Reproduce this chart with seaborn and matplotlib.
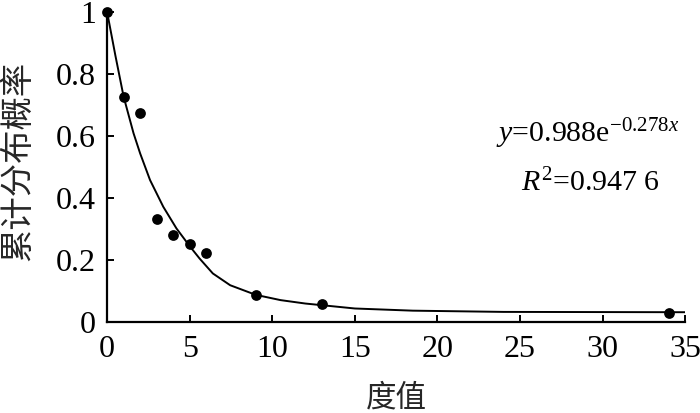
import matplotlib
matplotlib.use("Agg")
import matplotlib.pyplot as plt
import seaborn as sns
import pandas as pd

# observed points
degree = [0, 1, 2, 3, 4, 5, 6, 9, 13, 34]
cum_prob = [1.0, 0.725, 0.673, 0.332, 0.281, 0.252, 0.223, 0.087, 0.058, 0.031]

# fitted curve
fit_x = [0, 0.5, 1, 1.6, 2, 2.6, 3.4, 4.2, 5, 5.6, 6.4, 7.45, 9, 10.5, 12, 15, 18.5, 24, 35]
fit_y = [1.0, 0.86, 0.727, 0.609, 0.544, 0.458, 0.372, 0.302, 0.245, 0.205, 0.157,
         0.119, 0.088, 0.071, 0.060, 0.044, 0.037, 0.033, 0.032]

x_ticks = [0, 5, 10, 15, 20, 25, 30, 35]
y_ticks = [0, 0.2, 0.4, 0.6, 0.8, 1.0]
y_ticklabels = ["0", "0.2", "0.4", "0.6", "0.8", "1"]

sns.set_theme(style="ticks")
plt.rcParams["font.family"] = ["Liberation Serif", "Noto Sans CJK SC"]
plt.rcParams["mathtext.fontset"] = "custom"
plt.rcParams["mathtext.rm"] = "Liberation Serif"
plt.rcParams["mathtext.it"] = "Liberation Serif:italic"

fig = plt.figure(figsize=(7.0, 4.13), dpi=100)
ax = fig.add_axes([0.153, 0.220, 0.826, 0.751])

pts = pd.DataFrame({"x": degree, "y": cum_prob})
fit = pd.DataFrame({"x": fit_x, "y": fit_y})

sns.lineplot(data=fit, x="x", y="y", ax=ax, color="black", linewidth=1.4, sort=True)
sns.scatterplot(data=pts, x="x", y="y", ax=ax, color="black", s=60, edgecolor="black",
                linewidth=0, zorder=5, clip_on=False)

ax.set_xlim(0, 35)
ax.set_ylim(0, 1)
ax.set_xticks(x_ticks)
ax.set_xticklabels([str(v) for v in x_ticks])
ax.set_yticks(y_ticks)
ax.set_yticklabels(y_ticklabels)
ax.tick_params(direction="in", length=5, width=1.4, labelsize=23, colors="black")
ax.tick_params(axis="y", pad=8)
ax.tick_params(axis="x", pad=9)
for s in ["top", "right"]:
    ax.spines[s].set_visible(False)
for s in ["left", "bottom"]:
    ax.spines[s].set_linewidth(1.6)
    ax.spines[s].set_color("black")

ax.set_xlabel("度值", fontsize=22, family=["Noto Sans CJK SC"])
ax.set_ylabel("累计分布概率", fontsize=24, family=["Noto Sans CJK SC"])
ax.xaxis.label.set_va("center")
ax.xaxis.set_label_coords(0.5, -0.245)
ax.yaxis.label.set_va("center")
ax.yaxis.set_label_coords(-0.154, 0.52)

ax.text(0.99, 0.607, r"$\mathit{y}$=0.988e$^{-0.278\mathit{x}}$", transform=ax.transAxes,
        ha="right", va="center", fontsize=21.5, color="black")
ax.text(0.957, 0.45, r"$\mathit{R}^2$=0.947 6", transform=ax.transAxes,
        ha="right", va="center", fontsize=21.5, color="black")

fig.savefig("out.png", dpi=100)
